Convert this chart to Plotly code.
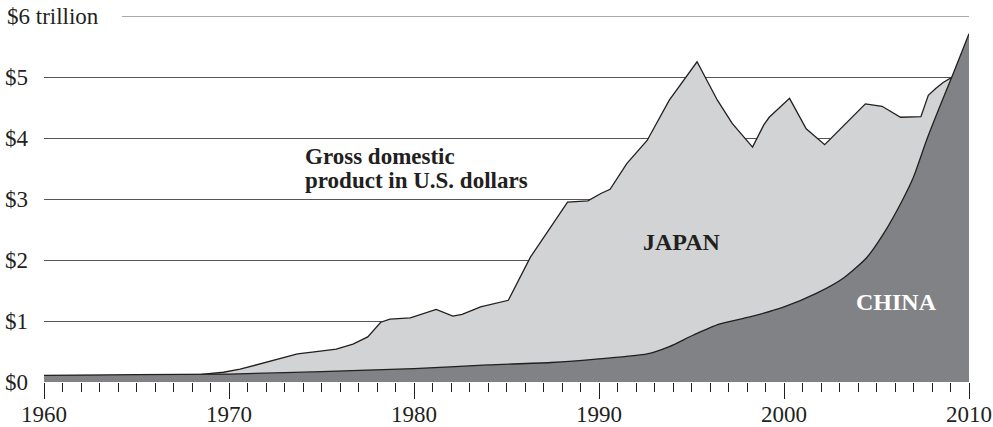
import plotly.graph_objects as go

# ---- data (trillions of US dollars) ----
japan_year = [1960, 1964, 1967, 1968.5, 1969.7, 1970.6, 1971.5, 1972.8, 1973.7, 1974.5,
              1975.8, 1976.7, 1977.5, 1978.2, 1978.7, 1979.8, 1980.3, 1981.2, 1982.1, 1982.6,
              1983.6, 1985.1, 1986.3, 1987.3, 1988.3, 1989.4, 1990.1, 1990.6, 1991.5, 1992.6,
              1993.8, 1995.3, 1996.4, 1997.2, 1998.3, 1998.9, 1999.2, 2000.3, 2001.2, 2002.2,
              2004.4, 2005.3, 2006.3, 2007.4, 2007.8, 2008.2, 2008.6, 2009.1, 2010]
japan_gdp = [0.10, 0.10, 0.11, 0.125, 0.16, 0.21, 0.28, 0.39, 0.46, 0.49,
             0.54, 0.62, 0.74, 0.98, 1.03, 1.05, 1.10, 1.19, 1.08, 1.11,
             1.23, 1.34, 2.05, 2.50, 2.95, 2.97, 3.09, 3.16, 3.58, 3.96,
             4.62, 5.25, 4.62, 4.24, 3.85, 4.21, 4.34, 4.65, 4.15, 3.89,
             4.56, 4.52, 4.34, 4.35, 4.70, 4.81, 4.91, 5.00, 5.45]

china_year = [1960, 1965, 1970, 1975, 1980, 1984, 1987.4, 1990, 1992.6, 1993.8, 1995.1,
              1996.5, 1998.2, 2000, 2001.8, 2003.2, 2004.5, 2005.4, 2006.4, 2007, 2007.7,
              2008.4, 2009.1, 2010]
china_gdp = [0.11, 0.12, 0.13, 0.17, 0.22, 0.28, 0.32, 0.38, 0.46, 0.58, 0.77,
             0.95, 1.07, 1.23, 1.46, 1.70, 2.05, 2.44, 2.98, 3.36, 3.96,
             4.50, 5.02, 5.71]

y_ticks = [0, 1, 2, 3, 4, 5]
y_tick_text = ["$0", "$1", "$2", "$3", "$4", "$5"]
x_ticks = [1960, 1970, 1980, 1990, 2000, 2010]

INK = "#231f20"
SERIF = "Liberation Serif, Times New Roman, serif"

fig = go.Figure()
fig.add_trace(go.Scatter(
    x=japan_year, y=japan_gdp, mode="lines", fill="tozeroy",
    fillcolor="#d1d3d4", line=dict(color=INK, width=1.3), hoverinfo="skip",
    name="Japan"))
fig.add_trace(go.Scatter(
    x=china_year, y=china_gdp, mode="lines", fill="tozeroy",
    fillcolor="#808285", line=dict(color=INK, width=1.3, shape="spline", smoothing=0.7),
    hoverinfo="skip", name="China"))

fig.update_layout(
    width=993, height=427,
    margin=dict(l=44, r=24, t=16, b=45, autoexpand=False),
    paper_bgcolor="white", plot_bgcolor="white",
    showlegend=False,
    font=dict(family=SERIF, size=23, color=INK),
    xaxis=dict(
        range=[1960, 2010], tickvals=x_ticks, ticks="outside", ticklen=16,
        tickwidth=1.2, tickcolor=INK, showgrid=False, zeroline=False, showline=False,
        automargin=False, ticklabelstandoff=-5,
        tickfont=dict(family=SERIF, size=23, color=INK),
        minor=dict(dtick=1, tick0=1960, ticks="outside", ticklen=9, tickwidth=1,
                   tickcolor=INK, showgrid=False),
    ),
    yaxis=dict(
        range=[0, 6], tickvals=y_ticks, ticktext=y_tick_text, ticks="",
        showgrid=True, gridcolor="#555555", gridwidth=1, zeroline=False,
        showline=False, ticklabelstandoff=15, automargin=False,
        tickfont=dict(family=SERIF, size=23, color=INK),
    ),
    shapes=[dict(type="line", xref="paper", yref="y", x0=0.0843, x1=1, y0=6, y1=6,
                 line=dict(color="#555555", width=1), layer="below")],
    annotations=[
        dict(text="$6 trillion", xref="paper", yref="y", x=-0.0422, y=6,
             xanchor="left", yanchor="middle", showarrow=False,
             font=dict(family=SERIF, size=23, color=INK)),
        dict(text="<b>Gross domestic</b>", xref="x", yref="y", x=1974.0, y=3.69,
             xanchor="left", yanchor="middle", showarrow=False,
             font=dict(family=SERIF, size=23, color=INK)),
        dict(text="<b>product in U.S. dollars</b>", xref="x", yref="y", x=1974.0, y=3.30,
             xanchor="left", yanchor="middle", showarrow=False,
             font=dict(family=SERIF, size=23, color=INK)),
        dict(text="<b>JAPAN</b>", xref="x", yref="y", x=1994.5, y=2.29,
             xanchor="center", yanchor="middle", showarrow=False,
             font=dict(family=SERIF, size=24, color=INK)),
        dict(text="<b>CHINA</b>", xref="x", yref="y", x=2006.1, y=1.31,
             xanchor="center", yanchor="middle", showarrow=False,
             font=dict(family=SERIF, size=24, color="white")),
    ],
)

# remove the browser's default 8px page margin so the figure fills the window exactly
fig.write_html("out.html", config={"displayModeBar": False},
               post_script="document.body.style.margin='0';")
